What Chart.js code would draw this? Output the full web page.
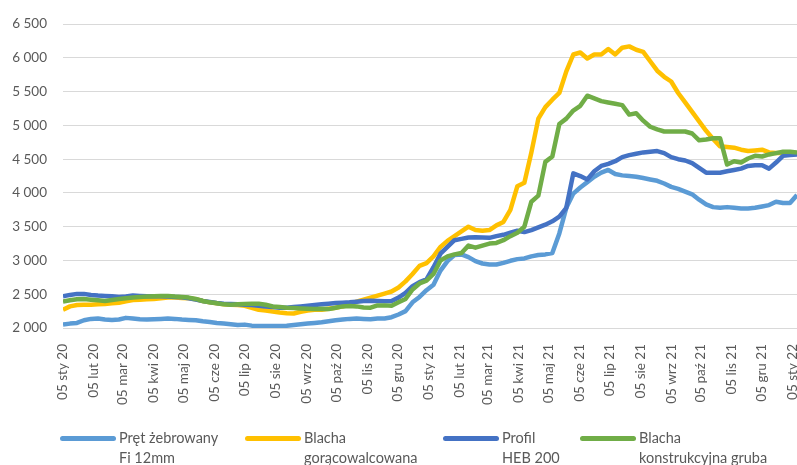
<!DOCTYPE html>
<html lang="pl">
<head>
<meta charset="UTF-8">
<script src="https://cdn.jsdelivr.net/npm/chart.js@4.4.1/dist/chart.umd.min.js"></script>
<style>
  body { margin: 0; background: #fff; }
  #wrap { position: relative; width: 797px; height: 465px; overflow: hidden;
          font-family: Lato, "Open Sans", sans-serif; color: #595959; }
  .leg { position: absolute; top: 428px; font-size: 14.5px; line-height: 20px; }
  .leg i { position: absolute; left: 0; top: 8px; width: 56px; height: 5px; border-radius: 3px; }
  .leg span { position: absolute; left: 59px; white-space: nowrap; }
</style>
</head>
<body>
<div id="wrap">
  <canvas id="chart" width="797" height="465"></canvas>
  <div id="legend"></div>
</div>
<script>
// weekly data, first week 05.01.2020
const startDate = Date.UTC(2020, 0, 5);

const pret = [
  2050, 2065, 2075, 2115, 2135, 2140, 2125, 2120, 2125, 2150,
  2140, 2130, 2125, 2130, 2135, 2140, 2135, 2125, 2120, 2115,
  2100, 2090, 2075, 2065, 2055, 2045, 2050, 2035, 2030, 2030,
  2030, 2030, 2035, 2045, 2055, 2065, 2075, 2085, 2100, 2115,
  2125, 2135, 2140, 2135, 2130, 2140, 2140, 2160, 2200, 2250,
  2380, 2460, 2560, 2640, 2850, 2990, 3080, 3090, 3050, 2990,
  2955, 2940, 2940, 2965, 2995, 3020, 3030, 3060, 3080, 3090,
  3110, 3400, 3780, 3990, 4080, 4160, 4240, 4300, 4340, 4280,
  4260, 4250, 4240, 4220, 4200, 4180, 4140, 4090, 4060, 4020,
  3980, 3900, 3830, 3790, 3780, 3790, 3780, 3770, 3770, 3780,
  3800, 3820, 3870, 3850, 3850, 3970
];

const blachaGoraca = [
  2270, 2320, 2340, 2345, 2345, 2350, 2355, 2365, 2375, 2395,
  2415, 2420, 2425, 2430, 2440, 2450, 2450, 2445, 2440, 2425,
  2400, 2380, 2365, 2350, 2345, 2340, 2330, 2300, 2270, 2260,
  2245, 2230, 2220, 2215, 2240, 2260, 2270, 2270, 2285, 2300,
  2320, 2350, 2390, 2420, 2450, 2480, 2510, 2540, 2600, 2690,
  2800, 2920, 2960, 3060, 3200, 3290, 3360, 3430, 3500, 3450,
  3440, 3450, 3520, 3570, 3750, 4100, 4150, 4600, 5100, 5270,
  5380, 5480, 5800, 6050, 6080, 5990, 6050, 6050, 6130, 6050,
  6150, 6170, 6120, 6090, 5950, 5810, 5720, 5650, 5480, 5340,
  5200, 5060, 4920, 4800, 4690, 4680, 4670, 4640, 4620, 4630,
  4640, 4600, 4590, 4590, 4590, 4580
];

const profil = [
  2470, 2490, 2505, 2505, 2490, 2480, 2475, 2470, 2460, 2465,
  2480, 2475, 2470, 2470, 2470, 2465, 2460, 2455, 2440, 2420,
  2400, 2385, 2370, 2360, 2355, 2350, 2345, 2340, 2330, 2320,
  2310, 2300, 2300, 2310, 2320, 2330, 2340, 2350, 2360, 2370,
  2375, 2380, 2390, 2400, 2405, 2400, 2395, 2400, 2450, 2520,
  2620, 2680, 2720, 2900, 3100, 3200, 3300, 3320, 3340, 3345,
  3340, 3335, 3360, 3380, 3410, 3440, 3420, 3450, 3490, 3530,
  3580, 3650, 3780, 4290, 4250, 4200, 4320, 4400, 4430, 4470,
  4530, 4560, 4580, 4600, 4610, 4620, 4590, 4530, 4500, 4480,
  4440, 4370, 4300, 4300, 4300, 4320, 4340, 4360, 4400, 4410,
  4410, 4360, 4450, 4550, 4560, 4570
];

const blachaKonstr = [
  2390, 2410, 2425, 2430, 2420, 2410, 2400, 2415, 2430, 2440,
  2450, 2460, 2465, 2470, 2475, 2475, 2465, 2460, 2450, 2430,
  2400, 2380, 2365, 2350, 2345, 2350, 2355, 2360, 2360, 2345,
  2320, 2310, 2300, 2295, 2290, 2285, 2280, 2285, 2280, 2300,
  2320, 2325, 2320, 2305, 2300, 2335, 2335, 2330, 2380, 2430,
  2570, 2660, 2700, 2800, 3000, 3060, 3090, 3110, 3220, 3190,
  3220, 3250, 3260, 3300, 3360, 3410, 3500, 3870, 3960, 4460,
  4540, 5020, 5100, 5220, 5290, 5440, 5400, 5360, 5340, 5320,
  5300, 5160, 5180, 5070, 4980, 4940, 4910, 4910, 4910, 4910,
  4880, 4780, 4790, 4810, 4810, 4420, 4470, 4450, 4510, 4550,
  4540, 4570, 4590, 4610, 4610, 4600
];

const monthNames = ['sty', 'lut', 'mar', 'kwi', 'maj', 'cze', 'lip', 'sie', 'wrz', 'paź', 'lis', 'gru'];

const series = [
  { label: ['Pręt żebrowany', 'Fi 12mm'], data: pret, color: '#5B9BD5', order: 3 },
  { label: ['Blacha', 'gorącowalcowana'], data: blachaGoraca, color: '#FFC000', order: 2 },
  { label: ['Profil', 'HEB 200'], data: profil, color: '#4472C4', order: 1 },
  { label: ['Blacha', 'konstrukcyjna gruba'], data: blachaKonstr, color: '#70AD47', order: 0 }
];

const DAY = 86400000;
// month ticks: the 5th of every month, Jan 2020 .. Jan 2022
const tickDays = [];
const tickLabels = [];
for (let k = 0; k <= 24; k++) {
  const y = 2020 + Math.floor(k / 12), m = k % 12;
  tickDays.push((Date.UTC(y, m, 5) - startDate) / DAY);
  tickLabels.push('05 ' + monthNames[m] + ' ' + String(y).slice(2));
}

const fmt = v => String(v).replace(/\B(?=(\d{3})+(?!\d))/g, ' ');
const font = { family: 'Lato, "Open Sans", sans-serif', size: 13.5 };
const grey = '#595959';

new Chart(document.getElementById('chart').getContext('2d'), {
  type: 'line',
  data: {
    datasets: series.map(s => ({
      label: s.label.join(' '),
      data: s.data.map((v, i) => ({ x: i * 7, y: v })),
      borderColor: s.color,
      backgroundColor: s.color,
      borderWidth: 4.5,
      borderJoinStyle: 'round',
      pointRadius: 0,
      tension: 0,
      order: s.order
    }))
  },
  options: {
    responsive: false,
    animation: false,
    layout: { padding: { top: 16, right: 0, bottom: 45, left: 0 } },
    plugins: { legend: { display: false }, tooltip: { enabled: false } },
    scales: {
      x: {
        type: 'linear',
        min: 0,
        max: (pret.length - 1) * 7,
        afterBuildTicks: s => { s.ticks = tickDays.map(v => ({ value: v })); },
        ticks: {
          autoSkip: false, minRotation: 90, maxRotation: 90, padding: 8,
          font, color: grey,
          callback: (v, i) => tickLabels[i]
        },
        grid: { display: false },
        border: { display: false },
        afterFit: s => { s.height = 92; s.paddingLeft = 0; s.paddingRight = 0; }
      },
      y: {
        min: 2000,
        max: 6500,
        ticks: { stepSize: 500, padding: 16, font, color: grey, callback: fmt },
        grid: { color: '#d9d9d9', lineWidth: 1, drawTicks: false },
        border: { display: false },
        afterFit: s => { s.width = 63; }
      }
    }
  }
});

// legend below the chart
const legendLeft = [60, 245, 443, 580];
const legend = document.getElementById('legend');
series.forEach((s, k) => {
  const d = document.createElement('div');
  d.className = 'leg';
  d.style.left = legendLeft[k] + 'px';
  d.innerHTML = '<i style="background:' + s.color + '"></i><span>' + s.label.join('<br>') + '</span>';
  legend.appendChild(d);
});
</script>
</body>
</html>
